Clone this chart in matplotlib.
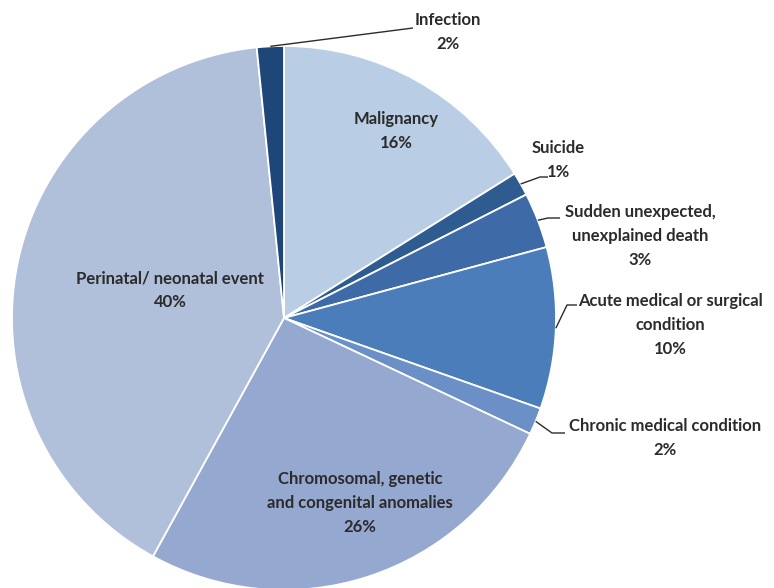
import numpy as np
import matplotlib.pyplot as plt

# causes of death, share of total (%), clockwise from 12 o'clock
causes = ["Malignancy", "Suicide", "Sudden unexpected,\nunexplained death",
          "Acute medical or surgical\ncondition", "Chronic medical condition",
          "Chromosomal, genetic\nand congenital anomalies",
          "Perinatal/ neonatal event", "Infection"]
shares = [16.1, 1.4, 3.3, 9.6, 1.6, 26.0, 40.4, 1.6]
colours = ["#B9CDE5", "#2E5C91", "#3E6BA7", "#4A7DBA", "#6B8FC7",
           "#95A8D0", "#B0BFDA", "#1F4679"]

W, H = 774, 588
cx, cy, R = 284, H - 318, 272

fig = plt.figure(figsize=(W / 100, H / 100), dpi=100)
ax = fig.add_axes([0, 0, 1, 1])
ax.set_xlim(0, W)
ax.set_ylim(0, H)
ax.set_aspect("equal")
ax.axis("off")

wedges, _ = ax.pie(shares, colors=colours, startangle=90, counterclock=False,
                   center=(cx, cy), radius=R,
                   wedgeprops=dict(edgecolor="white", linewidth=1.3))
ax.set_xlim(0, W)
ax.set_ylim(0, H)

font = dict(family=["Lato", "DejaVu Sans"], fontsize=12, fontweight="bold",
            color="#2b2b2b", ha="center", va="center", linespacing=1.6)

def label(i):
    return f"{causes[i]}\n{shares[i]:.0f}%"

# labels inside the pie (x, y in pixels from top-left)
inside = {0: (396, 131), 5: (360, 503), 6: (170, 290)}
for i, (x, y) in inside.items():
    ax.text(x, H - y, label(i), **font)

# outside labels with leader lines: text centre, knee, end of line
outside = {
    7: ((448, 32), None, (413, 28)),
    1: ((558, 160), (540, 177), (548, 177)),
    2: ((640, 236), (548, 218), (560, 218)),
    3: ((670, 325), (567, 305), (577, 305)),
    4: ((665, 438), (552, 433), (565, 433)),
}
for i, (txt, knee, end) in outside.items():
    w = wedges[i]
    mid = np.deg2rad((w.theta1 + w.theta2) / 2)
    sx, sy = cx + R * np.cos(mid), cy + R * np.sin(mid)
    xs, ys = [sx], [sy]
    if knee is not None:
        xs.append(knee[0])
        ys.append(H - knee[1])
    xs.append(end[0])
    ys.append(H - end[1])
    ax.plot(xs, ys, color="#2b2b2b", lw=1.0, solid_capstyle="butt")
    ax.text(txt[0], H - txt[1], label(i), **font)

fig.savefig("out.png", dpi=100)
